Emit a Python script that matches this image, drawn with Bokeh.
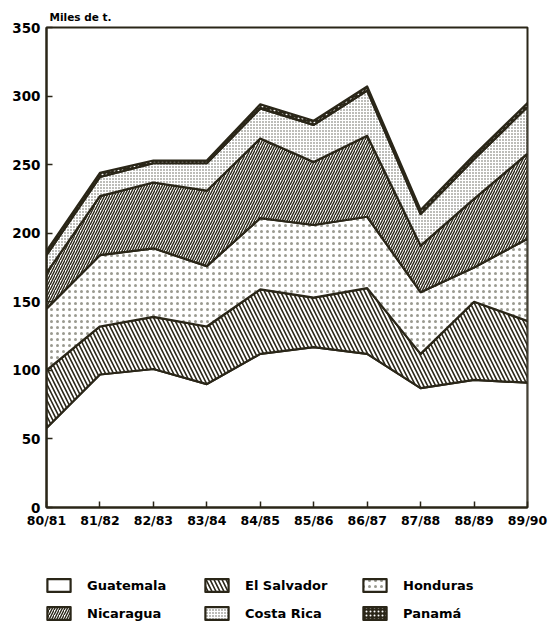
from bokeh.plotting import figure
from bokeh.layouts import column
from bokeh.models import FixedTicker, Legend, LegendItem, Range1d
from bokeh.embed import file_html
from bokeh.resources import INLINE

seasons = ["80/81", "81/82", "82/83", "83/84", "84/85",
           "85/86", "86/87", "87/88", "88/89", "89/90"]
guatemala = [58, 97, 101, 90, 112, 117, 112, 87, 93, 91]
el_salvador = [42, 35, 38, 42, 47, 36, 48, 25, 57, 45]
honduras = [45, 52, 50, 44, 52, 53, 52, 45, 25, 60]
nicaragua = [26, 43, 48, 55, 58, 46, 59, 34, 50, 62]
costa_rica = [13, 14, 14, 20, 22, 27, 33, 23, 29, 34]
panama = [3, 3, 2, 2, 3, 3, 3, 3, 3, 3]
y_ticks = [0, 50, 100, 150, 200, 250, 300, 350]

names = ["Guatemala", "El Salvador", "Honduras", "Nicaragua", "Costa Rica", "Panamá"]
series = [guatemala, el_salvador, honduras, nicaragua, costa_rica, panama]

INK = "#2a2618"
FONT = "DejaVu Sans"

styles = [
    dict(fill_color="white", hatch_pattern=" "),
    dict(fill_color="white", hatch_pattern="\\", hatch_color=INK, hatch_scale=8, hatch_weight=1.6),
    dict(fill_color="white", hatch_pattern=".", hatch_color="#9a9a90", hatch_scale=6, hatch_weight=1.0),
    dict(fill_color="white", hatch_pattern="/", hatch_color=INK, hatch_scale=5, hatch_weight=1.4),
    dict(fill_color="white", hatch_pattern=".", hatch_color="#5a5a50", hatch_scale=3, hatch_weight=1.0),
    dict(fill_color=INK, hatch_pattern=".", hatch_color="white", hatch_scale=4, hatch_weight=1.2),
]

xs = list(range(len(seasons)))
polys = []
base = [0] * len(seasons)
for vals in series:
    top = [b + v for b, v in zip(base, vals)]
    polys.append((xs + xs[::-1], top + base[::-1]))
    base = top

p = figure(width=548, height=540, output_backend="svg", toolbar_location=None,
           x_range=Range1d(0, len(seasons) - 1), y_range=Range1d(0, 350),
           min_border_left=46, min_border_top=27, min_border_right=21,
           min_border_bottom=33)
p.background_fill_color = "white"
p.border_fill_color = "white"
p.outline_line_color = INK
p.outline_line_width = 2
p.xgrid.visible = False
p.ygrid.visible = False

p.title.text = "Miles de t."
p.title.align = "left"
p.title.offset = 3
p.title.text_font = FONT
p.title.text_font_style = "bold"
p.title.text_font_size = "10.5px"
p.title.text_color = "black"
p.title.standoff = 9

for (px, py), st in zip(polys, styles):
    p.patch(px, py, line_color=INK, line_width=2.2, line_join="round", **st)

for ax in (p.xaxis[0], p.yaxis[0]):
    ax.axis_line_color = INK
    ax.axis_line_width = 2
    ax.major_tick_line_color = INK
    ax.major_tick_line_width = 1.5
    ax.major_tick_in = 6
    ax.major_tick_out = 0
    ax.minor_tick_line_color = None
    ax.major_label_text_font = FONT
    ax.major_label_text_font_style = "bold"
    ax.major_label_text_color = "black"

p.yaxis.ticker = FixedTicker(ticks=y_ticks)
p.yaxis.major_label_text_font_size = "13.5px"
p.yaxis.major_label_standoff = 6
p.xaxis.ticker = FixedTicker(ticks=xs)
p.xaxis.major_label_overrides = {i: s for i, s in enumerate(seasons)}
p.xaxis.major_label_text_font_size = "12.5px"
p.xaxis.major_label_standoff = 5

# legend panel (its patches lie outside its visible range; only the legend shows)
lg = figure(width=548, height=85, output_backend="svg", toolbar_location=None,
            x_axis_type=None, y_axis_type=None, x_range=Range1d(0, 1),
            y_range=Range1d(1000, 1001), min_border=0, outline_line_color=None)
lg.xgrid.visible = False
lg.ygrid.visible = False
items = []
for name, (px, py), st in zip(names, polys, styles):
    r = lg.patch(px, py, line_color=INK, line_width=2.2, line_join="round", **st)
    items.append(LegendItem(label=name, renderers=[r]))
legend = Legend(items=items, location=(-2, 4), orientation="horizontal", ncols=3,
                glyph_width=29, glyph_height=16, label_standoff=14, spacing=12,
                label_width=103, label_height=16,
                padding=0, margin=0, border_line_color=None,
                background_fill_alpha=0,
                label_text_font=FONT, label_text_font_style="bold",
                label_text_font_size="13px", label_text_color="black")
lg.add_layout(legend, "center")

layout = column(p, lg, spacing=0)
open("out.html", "w").write(file_html(layout, INLINE))
